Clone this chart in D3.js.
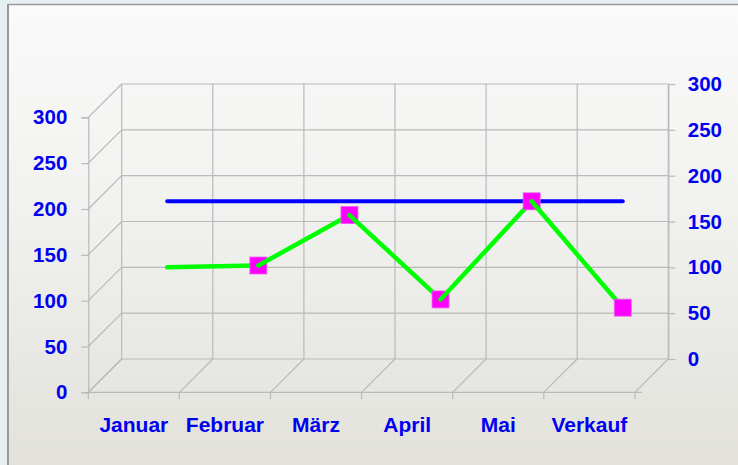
<!DOCTYPE html>
<html>
<head>
<meta charset="utf-8">
<script src="https://cdn.jsdelivr.net/npm/d3@7"></script>
<style>
  html, body { margin: 0; padding: 0; background: #e6eff1; }
  #chart { width: 738px; height: 465px; }
  text { font-family: "Liberation Sans", Arial, sans-serif; font-weight: bold; }
</style>
</head>
<body>
<div id="chart"></div>
<script>
// Daten
const categories = ["Januar", "Februar", "März", "April", "Mai", "Verkauf"];
const greenValues = [100, 102, 157, 65, 172, 56];
const blueValues = [172, 172, 172, 172, 172, 172];
const tickValues = [0, 50, 100, 150, 200, 250, 300];

const W = 738, H = 465;
// Rückwand und Tiefe (3D-Versatz)
const back = { left: 121.7, right: 668.3, top: 84, bottom: 359 };
const depth = { dx: -33.4, dy: 33.3 };
const gridColor = "#b9b9b9";
const textColor = "#0000f0";

const svg = d3.select("#chart")
  .append("svg")
  .attr("width", W)
  .attr("height", H);

// Hintergrund
const defs = svg.append("defs");
const grad = defs.append("linearGradient")
  .attr("id", "bg")
  .attr("x1", 0).attr("y1", 0).attr("x2", 0).attr("y2", 1);
grad.append("stop").attr("offset", "0%").attr("stop-color", "#fafafa");
grad.append("stop").attr("offset", "45%").attr("stop-color", "#f1f1ef");
grad.append("stop").attr("offset", "100%").attr("stop-color", "#e2e1db");

svg.append("rect")
  .attr("x", 0).attr("y", 0).attr("width", W).attr("height", H)
  .attr("fill", "#e6eff1");

svg.append("rect")
  .attr("x", 7).attr("y", 4).attr("width", W - 7).attr("height", H - 4)
  .attr("fill", "url(#bg)");

svg.append("line")
  .attr("x1", 7).attr("y1", 4.5).attr("x2", W).attr("y2", 4.5)
  .attr("stroke", "#9a9a9a").attr("stroke-width", 1.5);
svg.append("line")
  .attr("x1", 8).attr("y1", 4).attr("x2", 8).attr("y2", H)
  .attr("stroke", "#9a9a9a").attr("stroke-width", 2);

// Skalen
const x = d3.scaleBand()
  .domain(categories)
  .range([back.left, back.right]);

const xFront = d3.scaleBand()
  .domain(categories)
  .range([back.left + depth.dx, back.right + depth.dx]);

const y = d3.scaleLinear()
  .domain([0, 300])
  .range([back.bottom, back.top]);

const yFront = d3.scaleLinear()
  .domain([0, 300])
  .range([back.bottom + depth.dy, back.top + depth.dy]);

const boundaries = categories.map(c => x(c)).concat([back.right]);

const grid = svg.append("g")
  .attr("stroke", gridColor)
  .attr("stroke-width", 1.2)
  .attr("fill", "none");

// Rückwand: horizontale Linien
grid.selectAll(".hgrid")
  .data(tickValues)
  .enter()
  .append("line")
  .attr("x1", back.left)
  .attr("x2", back.right)
  .attr("y1", d => y(d))
  .attr("y2", d => y(d));

// Rückwand: vertikale Linien
grid.selectAll(".vgrid")
  .data(boundaries)
  .enter()
  .append("line")
  .attr("x1", d => d)
  .attr("x2", d => d)
  .attr("y1", back.top)
  .attr("y2", back.bottom);

// Seitenwand: Diagonalen
grid.selectAll(".side")
  .data(tickValues)
  .enter()
  .append("line")
  .attr("x1", back.left)
  .attr("y1", d => y(d))
  .attr("x2", back.left + depth.dx)
  .attr("y2", d => yFront(d));

// Boden: Diagonalen
grid.selectAll(".floor")
  .data(boundaries)
  .enter()
  .append("line")
  .attr("x1", d => d)
  .attr("y1", back.bottom)
  .attr("x2", d => d + depth.dx)
  .attr("y2", back.bottom + depth.dy);

// Linke Achse (vorne)
const leftAxis = svg.append("g")
  .attr("transform", `translate(${back.left + depth.dx}, 0)`)
  .call(d3.axisLeft(yFront).tickValues(tickValues).tickSize(7).tickPadding(14));

// Rechte Achse (hinten)
const rightAxis = svg.append("g")
  .attr("transform", `translate(${back.right}, 0)`)
  .call(d3.axisRight(y).tickValues(tickValues).tickSize(7).tickPadding(12.5));

[leftAxis, rightAxis].forEach(ax => {
  ax.select(".domain").attr("stroke", gridColor).attr("stroke-width", 1.2);
  ax.selectAll(".tick line").attr("stroke", gridColor).attr("stroke-width", 1.2);
  ax.selectAll("text")
    .attr("fill", textColor)
    .style("font-size", "20.5px")
    .style("font-family", "'Liberation Sans', Arial, sans-serif")
    .style("font-weight", "bold");
});

// Untere Achse (vorne)
const frontY = back.bottom + depth.dy;
svg.append("line")
  .attr("x1", back.left + depth.dx)
  .attr("x2", back.right + depth.dx + 7)
  .attr("y1", frontY)
  .attr("y2", frontY)
  .attr("stroke", gridColor)
  .attr("stroke-width", 1.2);

svg.selectAll(".xtick")
  .data(boundaries)
  .enter()
  .append("line")
  .attr("x1", d => d + depth.dx)
  .attr("x2", d => d + depth.dx)
  .attr("y1", frontY)
  .attr("y2", frontY + 7)
  .attr("stroke", gridColor)
  .attr("stroke-width", 1.2);

svg.selectAll(".xlabel")
  .data(categories)
  .enter()
  .append("text")
  .attr("x", d => xFront(d) + xFront.bandwidth() / 2)
  .attr("y", 432)
  .attr("text-anchor", "middle")
  .style("font-size", "21px")
  .attr("fill", textColor)
  .text(d => d);

// Linien
const px = i => x(categories[i]) + x.bandwidth() / 2;

const line = d3.line()
  .x((d, i) => px(i))
  .y(d => y(d));

svg.append("path")
  .datum(blueValues)
  .attr("fill", "none")
  .attr("stroke", "#0000ff")
  .attr("stroke-width", 4)
  .attr("stroke-linecap", "round")
  .attr("d", line);

// Grüne Linie: Segment für Segment, jeder Marker liegt über dem eingehenden
// und unter dem ausgehenden Segment (erster Punkt ohne Marker)
const greenLayer = svg.append("g");
d3.pairs(greenValues.map((v, i) => ({ i, v }))).forEach(([a, b]) => {
  greenLayer.append("line")
    .attr("x1", px(a.i)).attr("y1", y(a.v))
    .attr("x2", px(b.i)).attr("y2", y(b.v))
    .attr("stroke", "#00ff00")
    .attr("stroke-width", 4.5)
    .attr("stroke-linecap", "round");

  greenLayer.append("rect")
    .attr("x", px(b.i) - 8.5)
    .attr("y", y(b.v) - 8.5)
    .attr("width", 17)
    .attr("height", 17)
    .attr("fill", "#ff00ff")
    .attr("stroke", "#f060f0")
    .attr("stroke-width", 0.8);
});
</script>
</body>
</html>
